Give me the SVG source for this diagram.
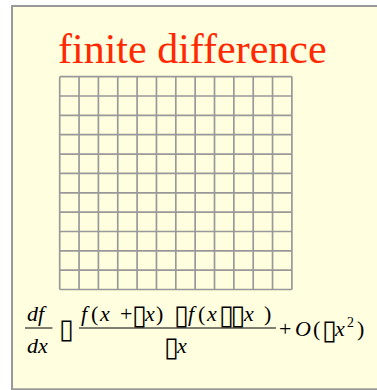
<svg xmlns="http://www.w3.org/2000/svg" width="377" height="390" viewBox="0 0 377 390">
<style>
.grid line{stroke:#999;stroke-width:1.7}
.m{font-family:"Liberation Serif","Times New Roman",serif;font-size:22px;fill:#000}
.i{font-style:italic}
.b{font-family:"DejaVu Sans",sans-serif;font-style:normal;font-size:27px}
.bar{stroke:#000;stroke-width:1}
</style>
<rect x="0" y="0" width="377" height="390" fill="#fff"/>
<rect id="frame" x="12" y="6" width="370" height="383.3" fill="#ffffe0" stroke="#999" stroke-width="2"/>
<g id="title"><text x="58" y="63" font-family="'Liberation Serif','Times New Roman',serif" font-size="42" fill="#ff2800">finite difference</text></g>
<g id="grid" class="grid">
<line x1="59.7" y1="76.7" x2="291.9" y2="76.7"/>
<line x1="59.7" y1="96" x2="291.9" y2="96"/>
<line x1="59.7" y1="115.4" x2="291.9" y2="115.4"/>
<line x1="59.7" y1="134.7" x2="291.9" y2="134.7"/>
<line x1="59.7" y1="154.1" x2="291.9" y2="154.1"/>
<line x1="59.7" y1="173.4" x2="291.9" y2="173.4"/>
<line x1="59.7" y1="192.8" x2="291.9" y2="192.8"/>
<line x1="59.7" y1="212.1" x2="291.9" y2="212.1"/>
<line x1="59.7" y1="231.5" x2="291.9" y2="231.5"/>
<line x1="59.7" y1="250.8" x2="291.9" y2="250.8"/>
<line x1="59.7" y1="270.2" x2="291.9" y2="270.2"/>
<line x1="59.7" y1="289.5" x2="291.9" y2="289.5"/>
<line x1="59.7" y1="76.7" x2="59.7" y2="289.5"/>
<line x1="79.05" y1="76.7" x2="79.05" y2="289.5"/>
<line x1="98.4" y1="76.7" x2="98.4" y2="289.5"/>
<line x1="117.75" y1="76.7" x2="117.75" y2="289.5"/>
<line x1="137.1" y1="76.7" x2="137.1" y2="289.5"/>
<line x1="156.45" y1="76.7" x2="156.45" y2="289.5"/>
<line x1="175.8" y1="76.7" x2="175.8" y2="289.5"/>
<line x1="195.15" y1="76.7" x2="195.15" y2="289.5"/>
<line x1="214.5" y1="76.7" x2="214.5" y2="289.5"/>
<line x1="233.85" y1="76.7" x2="233.85" y2="289.5"/>
<line x1="253.2" y1="76.7" x2="253.2" y2="289.5"/>
<line x1="272.55" y1="76.7" x2="272.55" y2="289.5"/>
<line x1="291.9" y1="76.7" x2="291.9" y2="289.5"/>
</g>
<g id="formula" class="m">
<text class="i" x="27" y="321">df</text>
<line class="bar" x1="25" y1="328" x2="52.5" y2="328"/>
<text class="i" x="27" y="353">dx</text>
<text class="b" x="59" y="338">▯</text>
<text y="321"><tspan class="i" x="81">f</tspan><tspan x="91">(</tspan><tspan class="i" x="100">x</tspan><tspan x="120">+</tspan><tspan class="i" x="145">x</tspan><tspan x="156">)</tspan><tspan class="i" x="188">f</tspan><tspan x="198">(</tspan><tspan class="i" x="207">x</tspan><tspan class="i" x="244">x</tspan><tspan x="264">)</tspan></text>
<text class="b" x="132" y="324">▯</text>
<text class="b" x="174" y="324">▯</text>
<text class="b" x="219" y="324">▯</text>
<text class="b" x="230.5" y="324">▯</text>
<line class="bar" x1="79" y1="328" x2="276" y2="328"/>
<text class="b" x="164" y="356">▯</text>
<text class="i" x="177" y="353">x</text>
<text y="336"><tspan x="279">+</tspan><tspan class="i" x="295">O</tspan><tspan x="313">(</tspan><tspan class="i" x="335">x</tspan><tspan x="347" y="327" font-size="14">2</tspan><tspan x="357" y="336">)</tspan></text>
<text class="b" x="322" y="339">▯</text>
</g>
</svg>
